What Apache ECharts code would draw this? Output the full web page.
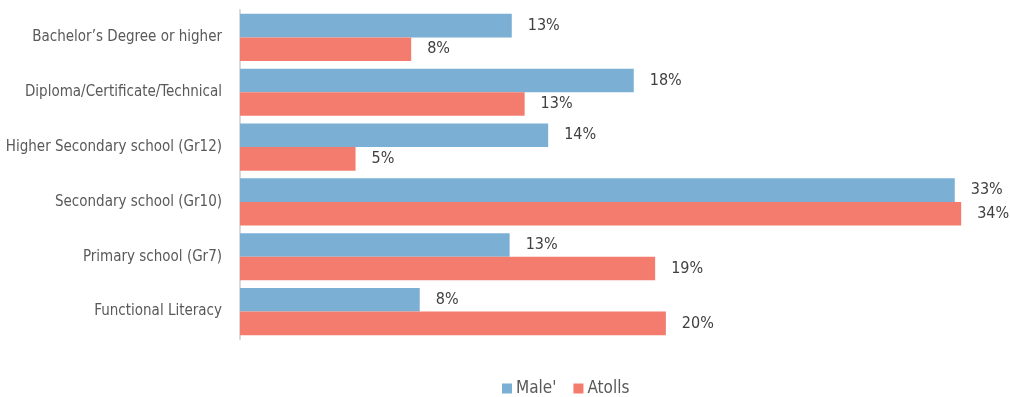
<!DOCTYPE html>
<html>
<head>
<meta charset="utf-8">
<script src="https://cdn.jsdelivr.net/npm/echarts@6/dist/echarts.min.js"></script>
<style>html,body{margin:0;padding:0;background:#fff;}#c{width:1010px;height:397px;}</style>
</head>
<body>
<div id="c"></div>
<script>
const categories = ["Bachelor\u2019s Degree or higher", "Diploma/Certificate/Technical", "Higher Secondary school (Gr12)", "Secondary school (Gr10)", "Primary school (Gr7)", "Functional Literacy"];
const maleValues = [12.7, 18.4, 14.4, 33.4, 12.6, 8.4];
const atollsValues = [8.0, 13.3, 5.4, 33.7, 19.4, 19.9];
const seriesNames = ["Male'", "Atolls"];

const FONT = "'Liberation Sans Narrow', 'DejaVu Sans Condensed', 'Open Sans', sans-serif";
const chart = echarts.init(document.getElementById('c'), null, {renderer: 'canvas'});
const labelCfg = {
  show: true, position: 'right', distance: 16,
  color: '#404040', fontFamily: FONT, fontSize: 16,
  formatter: p => Math.round(p.value) + '%'
};
chart.setOption({
  animation: false,
  grid: {left: 240, right: 21, top: 10, bottom: 58, containLabel: false, outerBoundsMode: 'none'},
  legend: {
    top: 375, left: 497, itemWidth: 10, itemHeight: 10, itemGap: 17,
    icon: 'rect',
    textStyle: {color: '#595959', fontFamily: FONT, fontSize: 17, padding: [0, 0, 0, -1]},
    data: seriesNames
  },
  xAxis: {
    type: 'value', min: 0, max: 35, show: false
  },
  yAxis: {
    type: 'category', inverse: true, data: categories,
    axisLine: {show: true, lineStyle: {color: '#d9d9d9', width: 2}},
    axisTick: {show: false},
    axisLabel: {color: '#595959', fontFamily: FONT, fontSize: 15, margin: 18}
  },
  series: [
    {name: seriesNames[0], type: 'bar', data: maleValues, barGap: '0%', barCategoryGap: '14%',
     itemStyle: {color: '#7bafd4'}, label: labelCfg},
    {name: seriesNames[1], type: 'bar', data: atollsValues, barGap: '0%', barCategoryGap: '14%',
     itemStyle: {color: '#f47c6e'}, label: labelCfg}
  ]
});
</script>
</body>
</html>
